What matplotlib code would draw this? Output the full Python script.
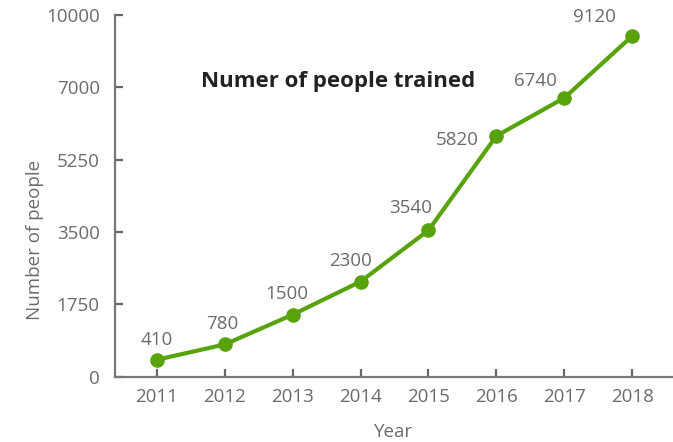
import matplotlib
matplotlib.use("Agg")
import matplotlib.pyplot as plt
import numpy as np

years = [2011, 2012, 2013, 2014, 2015, 2016, 2017, 2018]
people = [410, 780, 1500, 2300, 3540, 5820, 6740, 9120]
ytick_values = [0, 1750, 3500, 5250, 7000, 10000]

# label offsets in points (dx, dy), as placed in the reference
label_offsets = [(0, 14), (-2, 15), (-4, 15), (-7, 15), (-13, 16), (-28, -3), (-21, 12), (-27, 14)]

green = "#58a30c"
grey = "#6b6b6b"

plt.rcParams["font.family"] = ["Open Sans", "DejaVu Sans"]


# the top segment of the axis is compressed: 7000 -> 10000 takes one tick step
def fwd(y):
    y = np.asarray(y, dtype=float)
    return np.where(y <= 7000, y, 7000 + (y - 7000) * 1750 / 3000)


def inv(v):
    v = np.asarray(v, dtype=float)
    return np.where(v <= 7000, v, 7000 + (v - 7000) * 3000 / 1750)


fig = plt.figure(figsize=(6.73, 4.42), dpi=100)
ax = fig.add_axes([0.1709, 0.1477, 0.8291, 0.819])
ax.set_yscale("function", functions=(fwd, inv))

ax.plot(years, people, color=green, lw=3, marker="o", ms=9.5, clip_on=False, zorder=3)

for x, y, (dx, dy) in zip(years, people, label_offsets):
    ax.annotate(str(y), (x, y), xytext=(dx, dy), textcoords="offset points",
                ha="center", va="center", fontsize=13.5, color=grey)

ax.set_xlim(2010.385, 2018.6)
ax.set_ylim(0, 10000)
ax.set_xticks(years)
ax.set_xticklabels([str(y) for y in years])
ax.set_yticks(ytick_values)
ax.set_yticklabels([str(v) for v in ytick_values])
ax.minorticks_off()

for s in ["top", "right"]:
    ax.spines[s].set_visible(False)
for s in ["left", "bottom"]:
    ax.spines[s].set_color("#777777")
    ax.spines[s].set_linewidth(1.6)

ax.tick_params(direction="in", length=6, width=1.6, color="#666666",
               labelsize=13.5, labelcolor=grey, pad=8)
ax.tick_params(axis="y", pad=11)

fig.text(394 / 673, 1 - 432 / 442, "Year", ha="center", va="center",
         fontsize=13.5, color=grey)
fig.text(35 / 673, 1 - 240 / 442, "Number of people", ha="center", va="center",
         rotation=90, fontsize=13.5, color=grey)

fig.text(338 / 673, 1 - 82 / 442, "Numer of people trained", ha="center", va="center",
         fontsize=16, fontweight="bold", color="#222222")

fig.savefig("out.png", dpi=100)
